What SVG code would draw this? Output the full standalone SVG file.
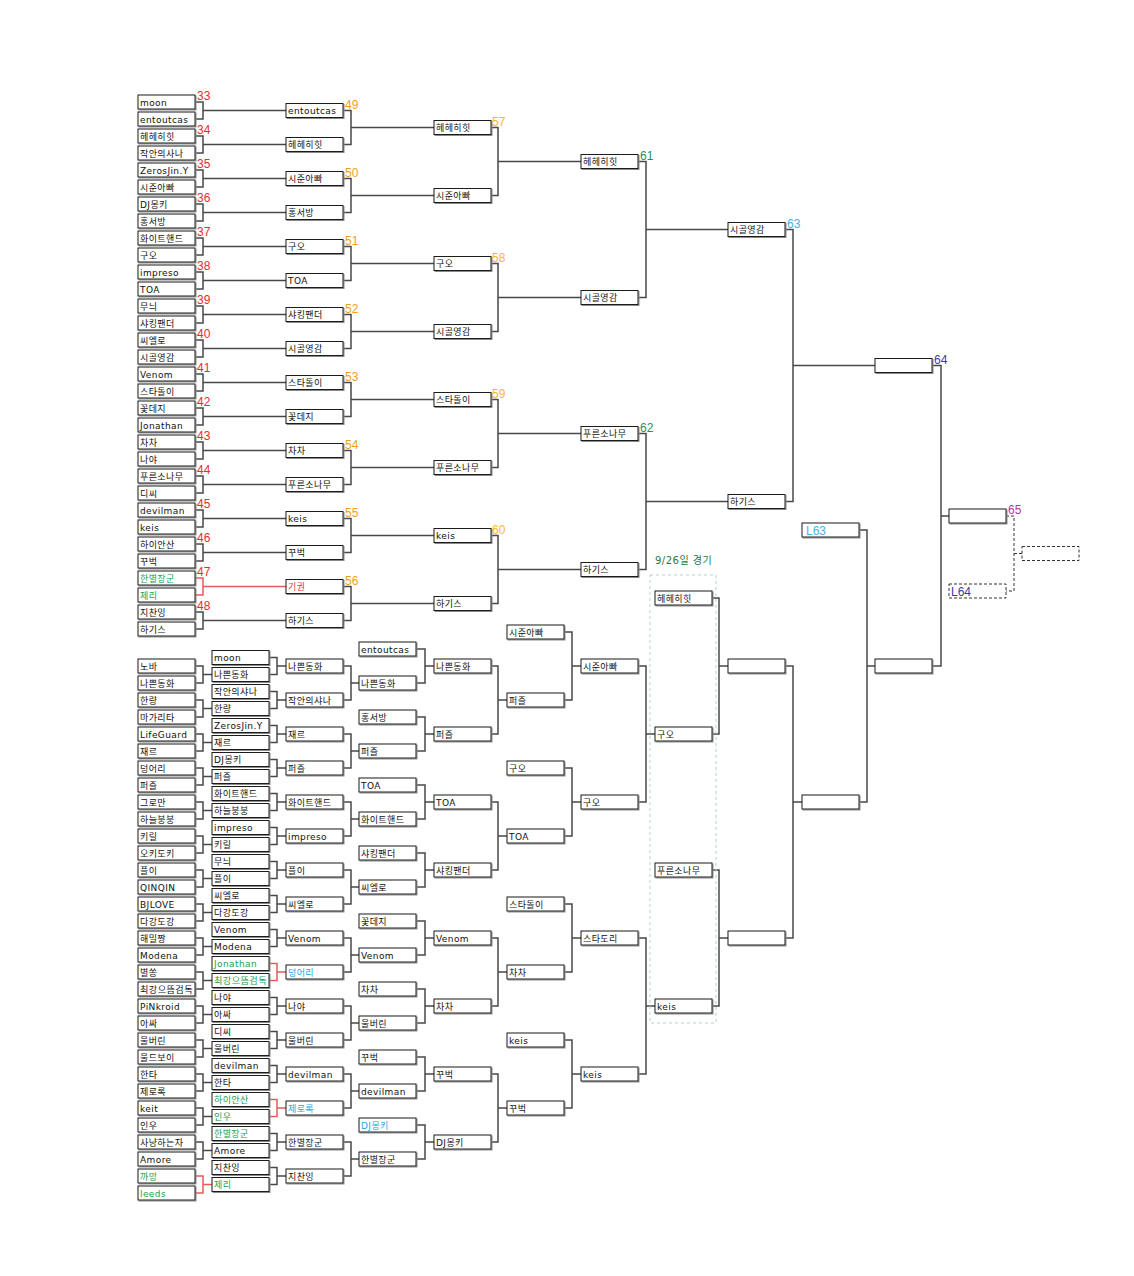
<svg xmlns="http://www.w3.org/2000/svg" width="1134" height="1276" viewBox="0 0 1134 1276">
<defs>
<filter id="sh" x="-10%" y="-20%" width="130%" height="160%"><feDropShadow dx="1" dy="1" stdDeviation="0" flood-color="#8a8a8a" flood-opacity="1"/></filter>
<style>
.b{fill:#fff;stroke:#1a1a1a;stroke-width:1;filter:url(#sh)}
.bd{fill:#fff;stroke:#333;stroke-width:1;stroke-dasharray:3 2}
.t{font-family:"DejaVu Sans","Noto Sans CJK KR",sans-serif;font-size:9px;letter-spacing:0.4px;fill:#111}
.g{fill:#18a050}
.u{fill:#22a6e6}
.r{fill:#ee3333}
.n{font-family:"Liberation Sans","Noto Sans",sans-serif;font-size:12px}
.n1{fill:#ee2a2a}.n2{fill:#f39c1f}.n3{fill:#f7b928}.n4{fill:#2e8b57}.n5{fill:#4aaee6}.n6{fill:#3b3b9b}.n7{fill:#b2379a}
.c{fill:none;stroke:#484848;stroke-width:1.5}
.cr{fill:none;stroke:#e85a5a;stroke-width:1.5}
.cd{fill:none;stroke:#333;stroke-width:1;stroke-dasharray:3 2}
.zone{fill:none;stroke:#b5d3cf;stroke-width:1;stroke-dasharray:3 3}
.lbl{font-family:"DejaVu Sans","Noto Sans CJK KR",sans-serif;font-size:10px;letter-spacing:0.5px;fill:#1d7a44}
</style>
</defs>
<rect width="1134" height="1276" fill="#fff"/>
<g id="connectors">
<path class="c" d="M195 102H203V119H195M203 110.5H286M195 136H203V153H195M203 144.5H286M195 170H203V187H195M203 178.5H286M195 204H203V221H195M203 212.5H286M195 238H203V255H195M203 246.5H286M195 272H203V289H195M203 280.5H286M195 306H203V323H195M203 314.5H286M195 340H203V357H195M203 348.5H286M195 374H203V391H195M203 382.5H286M195 408H203V425H195M203 416.5H286M195 442H203V459H195M203 450.5H286M195 476H203V493H195M203 484.5H286M195 510H203V527H195M203 518.5H286M195 544H203V561H195M203 552.5H286M195 612H203V629H195M203 620.5H286"/>
<path class="cr" d="M195 578H203V595H195M203 586.5H286"/>
<path class="c" d="M343 110.5H351V144.5H343M351 127.5H434M343 178.5H351V212.5H343M351 195.5H434M343 246.5H351V280.5H343M351 263.5H434M343 314.5H351V348.5H343M351 331.5H434M343 382.5H351V416.5H343M351 399.5H434M343 450.5H351V484.5H343M351 467.5H434M343 518.5H351V552.5H343M351 535.5H434M343 586.5H351V620.5H343M351 603.5H434"/>
<path class="c" d="M491 127.5H498V195.5H491M498 161.5H581M491 263.5H498V331.5H491M498 297.5H581M491 399.5H498V467.5H491M498 433.5H581M491 535.5H498V603.5H491M498 569.5H581"/>
<path class="c" d="M638 161.5H646V297.5H638M646 229.5H728M638 433.5H646V569.5H638M646 501.5H728"/>
<path class="c" d="M785 229.5H793V501.5H785M793 365.5H875"/>
<path class="c" d="M932 365.5H941V666H932M941 516H949"/>
<path class="cd" d="M1006 516H1014V591H1006M1014 553.5H1022"/>
<path class="c" d="M195 666H203V683H195M203 674.5H212M195 700H203V717H195M203 708.5H212M195 734H203V751H195M203 742.5H212M195 768H203V785H195M203 776.5H212M195 802H203V819H195M203 810.5H212M195 836H203V853H195M203 844.5H212M195 870H203V887H195M203 878.5H212M195 904H203V921H195M203 912.5H212M195 938H203V955H195M203 946.5H212M195 972H203V989H195M203 980.5H212M195 1006H203V1023H195M203 1014.5H212M195 1040H203V1057H195M203 1048.5H212M195 1074H203V1091H195M203 1082.5H212M195 1108H203V1125H195M203 1116.5H212M195 1142H203V1159H195M203 1150.5H212"/>
<path class="cr" d="M195 1176H203V1193H195M203 1184.5H212"/>
<path class="c" d="M269 657.5H277V674.5H269M277 666H286M269 691.5H277V708.5H269M277 700H286M269 725.5H277V742.5H269M277 734H286M269 759.5H277V776.5H269M277 768H286M269 793.5H277V810.5H269M277 802H286M269 827.5H277V844.5H269M277 836H286M269 861.5H277V878.5H269M277 870H286M269 895.5H277V912.5H269M277 904H286M269 929.5H277V946.5H269M277 938H286M269 997.5H277V1014.5H269M277 1006H286M269 1031.5H277V1048.5H269M277 1040H286M269 1065.5H277V1082.5H269M277 1074H286M269 1133.5H277V1150.5H269M277 1142H286M269 1167.5H277V1184.5H269M277 1176H286"/>
<path class="cr" d="M269 963.5H277V980.5H269M277 972H286M269 1099.5H277V1116.5H269M277 1108H286"/>
<path class="c" d="M343 666H351V700H343M351 683H359M343 734H351V768H343M351 751H359M343 802H351V836H343M351 819H359M343 870H351V904H343M351 887H359M343 938H351V972H343M351 955H359M343 1006H351V1040H343M351 1023H359M343 1074H351V1108H343M351 1091H359M343 1142H351V1176H343M351 1159H359"/>
<path class="c" d="M416 649H425V683H416M425 666H434M416 717H425V751H416M425 734H434M416 785H425V819H416M425 802H434M416 853H425V887H416M425 870H434M416 921H425V955H416M425 938H434M416 989H425V1023H416M425 1006H434M416 1057H425V1091H416M425 1074H434M416 1125H425V1159H416M425 1142H434"/>
<path class="c" d="M491 666H498V734H491M498 700H507M491 802H498V870H491M498 836H507M491 938H498V1006H491M498 972H507M491 1074H498V1142H491M498 1108H507"/>
<path class="c" d="M564 632H572V700H564M572 666H581M564 768H572V836H564M572 802H581M564 904H572V972H564M572 938H581M564 1040H572V1108H564M572 1074H581"/>
<path class="c" d="M638 666H646V802H638M646 734H655M638 938H646V1074H638M646 1006H655"/>
<path class="c" d="M712 598H719V734H712M719 666H728M712 870H719V1006H712M719 938H728"/>
<path class="c" d="M785 666H793V938H785M793 802H802"/>
<path class="c" d="M859 530H867V802H859M867 666H875"/>
</g>
<rect class="zone" x="650" y="575" width="66" height="448"/>
<text class="lbl" x="655" y="564">9/26일 경기</text>
<g id="numbers">
<text class="n n1" x="197" y="100">33</text><text class="n n1" x="197" y="134">34</text><text class="n n1" x="197" y="168">35</text><text class="n n1" x="197" y="202">36</text><text class="n n1" x="197" y="236">37</text><text class="n n1" x="197" y="270">38</text><text class="n n1" x="197" y="304">39</text><text class="n n1" x="197" y="338">40</text><text class="n n1" x="197" y="372">41</text><text class="n n1" x="197" y="406">42</text><text class="n n1" x="197" y="440">43</text><text class="n n1" x="197" y="474">44</text><text class="n n1" x="197" y="508">45</text><text class="n n1" x="197" y="542">46</text><text class="n n1" x="197" y="576">47</text><text class="n n1" x="197" y="610">48</text>
<text class="n n2" x="345" y="108.5">49</text><text class="n n2" x="345" y="176.5">50</text><text class="n n2" x="345" y="244.5">51</text><text class="n n2" x="345" y="312.5">52</text><text class="n n2" x="345" y="380.5">53</text><text class="n n2" x="345" y="448.5">54</text><text class="n n2" x="345" y="516.5">55</text><text class="n n2" x="345" y="584.5">56</text>
<text class="n n3" x="492" y="125.5">57</text><text class="n n3" x="492" y="261.5">58</text><text class="n n3" x="492" y="397.5">59</text><text class="n n3" x="492" y="533.5">60</text>
<text class="n n4" x="640" y="159.5">61</text><text class="n n4" x="640" y="431.5">62</text>
<text class="n n5" x="787" y="227.5">63</text>
<text class="n n6" x="934" y="363.5">64</text>
<text class="n n7" x="1008" y="514">65</text>
</g>
<g id="winners">
<g id="w1-01"><rect class="b" x="138" y="95" width="57" height="14"/><text class="t" x="140" y="105.5">moon</text></g>
<g id="w1-02"><rect class="b" x="138" y="112" width="57" height="14"/><text class="t" x="140" y="122.5">entoutcas</text></g>
<g id="w1-03"><rect class="b" x="138" y="129" width="57" height="14"/><text class="t" x="140" y="139.5">헤헤히힛</text></g>
<g id="w1-04"><rect class="b" x="138" y="146" width="57" height="14"/><text class="t" x="140" y="156.5">작안의사나</text></g>
<g id="w1-05"><rect class="b" x="138" y="163" width="57" height="14"/><text class="t" x="140" y="173.5">ZerosJin.Y</text></g>
<g id="w1-06"><rect class="b" x="138" y="180" width="57" height="14"/><text class="t" x="140" y="190.5">시준아빠</text></g>
<g id="w1-07"><rect class="b" x="138" y="197" width="57" height="14"/><text class="t" x="140" y="207.5">DJ몽키</text></g>
<g id="w1-08"><rect class="b" x="138" y="214" width="57" height="14"/><text class="t" x="140" y="224.5">홍서방</text></g>
<g id="w1-09"><rect class="b" x="138" y="231" width="57" height="14"/><text class="t" x="140" y="241.5">화이트핸드</text></g>
<g id="w1-10"><rect class="b" x="138" y="248" width="57" height="14"/><text class="t" x="140" y="258.5">구오</text></g>
<g id="w1-11"><rect class="b" x="138" y="265" width="57" height="14"/><text class="t" x="140" y="275.5">impreso</text></g>
<g id="w1-12"><rect class="b" x="138" y="282" width="57" height="14"/><text class="t" x="140" y="292.5">TOA</text></g>
<g id="w1-13"><rect class="b" x="138" y="299" width="57" height="14"/><text class="t" x="140" y="309.5">무늬</text></g>
<g id="w1-14"><rect class="b" x="138" y="316" width="57" height="14"/><text class="t" x="140" y="326.5">샤킹팬더</text></g>
<g id="w1-15"><rect class="b" x="138" y="333" width="57" height="14"/><text class="t" x="140" y="343.5">씨엘로</text></g>
<g id="w1-16"><rect class="b" x="138" y="350" width="57" height="14"/><text class="t" x="140" y="360.5">시골영감</text></g>
<g id="w1-17"><rect class="b" x="138" y="367" width="57" height="14"/><text class="t" x="140" y="377.5">Venom</text></g>
<g id="w1-18"><rect class="b" x="138" y="384" width="57" height="14"/><text class="t" x="140" y="394.5">스타돌이</text></g>
<g id="w1-19"><rect class="b" x="138" y="401" width="57" height="14"/><text class="t" x="140" y="411.5">꽃데지</text></g>
<g id="w1-20"><rect class="b" x="138" y="418" width="57" height="14"/><text class="t" x="140" y="428.5">Jonathan</text></g>
<g id="w1-21"><rect class="b" x="138" y="435" width="57" height="14"/><text class="t" x="140" y="445.5">차차</text></g>
<g id="w1-22"><rect class="b" x="138" y="452" width="57" height="14"/><text class="t" x="140" y="462.5">나야</text></g>
<g id="w1-23"><rect class="b" x="138" y="469" width="57" height="14"/><text class="t" x="140" y="479.5">푸른소나무</text></g>
<g id="w1-24"><rect class="b" x="138" y="486" width="57" height="14"/><text class="t" x="140" y="496.5">디씨</text></g>
<g id="w1-25"><rect class="b" x="138" y="503" width="57" height="14"/><text class="t" x="140" y="513.5">devilman</text></g>
<g id="w1-26"><rect class="b" x="138" y="520" width="57" height="14"/><text class="t" x="140" y="530.5">keis</text></g>
<g id="w1-27"><rect class="b" x="138" y="537" width="57" height="14"/><text class="t" x="140" y="547.5">하이안산</text></g>
<g id="w1-28"><rect class="b" x="138" y="554" width="57" height="14"/><text class="t" x="140" y="564.5">꾸벅</text></g>
<g id="w1-29"><rect class="b" x="138" y="571" width="57" height="14"/><text class="t g" x="140" y="581.5">한별장군</text></g>
<g id="w1-30"><rect class="b" x="138" y="588" width="57" height="14"/><text class="t g" x="140" y="598.5">제리</text></g>
<g id="w1-31"><rect class="b" x="138" y="605" width="57" height="14"/><text class="t" x="140" y="615.5">지찬잉</text></g>
<g id="w1-32"><rect class="b" x="138" y="622" width="57" height="14"/><text class="t" x="140" y="632.5">하기스</text></g>
<g id="w2-01"><rect class="b" x="286" y="103.5" width="57" height="14"/><text class="t" x="288" y="114">entoutcas</text></g>
<g id="w2-02"><rect class="b" x="286" y="137.5" width="57" height="14"/><text class="t" x="288" y="148">헤헤히힛</text></g>
<g id="w2-03"><rect class="b" x="286" y="171.5" width="57" height="14"/><text class="t" x="288" y="182">시준아빠</text></g>
<g id="w2-04"><rect class="b" x="286" y="205.5" width="57" height="14"/><text class="t" x="288" y="216">홍서방</text></g>
<g id="w2-05"><rect class="b" x="286" y="239.5" width="57" height="14"/><text class="t" x="288" y="250">구오</text></g>
<g id="w2-06"><rect class="b" x="286" y="273.5" width="57" height="14"/><text class="t" x="288" y="284">TOA</text></g>
<g id="w2-07"><rect class="b" x="286" y="307.5" width="57" height="14"/><text class="t" x="288" y="318">샤킹팬더</text></g>
<g id="w2-08"><rect class="b" x="286" y="341.5" width="57" height="14"/><text class="t" x="288" y="352">시골영감</text></g>
<g id="w2-09"><rect class="b" x="286" y="375.5" width="57" height="14"/><text class="t" x="288" y="386">스타돌이</text></g>
<g id="w2-10"><rect class="b" x="286" y="409.5" width="57" height="14"/><text class="t" x="288" y="420">꽃데지</text></g>
<g id="w2-11"><rect class="b" x="286" y="443.5" width="57" height="14"/><text class="t" x="288" y="454">차차</text></g>
<g id="w2-12"><rect class="b" x="286" y="477.5" width="57" height="14"/><text class="t" x="288" y="488">푸른소나무</text></g>
<g id="w2-13"><rect class="b" x="286" y="511.5" width="57" height="14"/><text class="t" x="288" y="522">keis</text></g>
<g id="w2-14"><rect class="b" x="286" y="545.5" width="57" height="14"/><text class="t" x="288" y="556">꾸벅</text></g>
<g id="w2-15"><rect class="b" x="286" y="579.5" width="57" height="14"/><text class="t r" x="288" y="590">기권</text></g>
<g id="w2-16"><rect class="b" x="286" y="613.5" width="57" height="14"/><text class="t" x="288" y="624">하기스</text></g>
<g id="w3-1"><rect class="b" x="434" y="120.5" width="57" height="14"/><text class="t" x="436" y="131">헤헤히힛</text></g>
<g id="w3-2"><rect class="b" x="434" y="188.5" width="57" height="14"/><text class="t" x="436" y="199">시준아빠</text></g>
<g id="w3-3"><rect class="b" x="434" y="256.5" width="57" height="14"/><text class="t" x="436" y="267">구오</text></g>
<g id="w3-4"><rect class="b" x="434" y="324.5" width="57" height="14"/><text class="t" x="436" y="335">시골영감</text></g>
<g id="w3-5"><rect class="b" x="434" y="392.5" width="57" height="14"/><text class="t" x="436" y="403">스타돌이</text></g>
<g id="w3-6"><rect class="b" x="434" y="460.5" width="57" height="14"/><text class="t" x="436" y="471">푸른소나무</text></g>
<g id="w3-7"><rect class="b" x="434" y="528.5" width="57" height="14"/><text class="t" x="436" y="539">keis</text></g>
<g id="w3-8"><rect class="b" x="434" y="596.5" width="57" height="14"/><text class="t" x="436" y="607">하기스</text></g>
<g id="w4-1"><rect class="b" x="581" y="154.5" width="57" height="14"/><text class="t" x="583" y="165">헤헤히힛</text></g>
<g id="w4-2"><rect class="b" x="581" y="290.5" width="57" height="14"/><text class="t" x="583" y="301">시골영감</text></g>
<g id="w4-3"><rect class="b" x="581" y="426.5" width="57" height="14"/><text class="t" x="583" y="437">푸른소나무</text></g>
<g id="w4-4"><rect class="b" x="581" y="562.5" width="57" height="14"/><text class="t" x="583" y="573">하기스</text></g>
<g id="w5-1"><rect class="b" x="728" y="222.5" width="57" height="14"/><text class="t" x="730" y="233">시골영감</text></g>
<g id="w5-2"><rect class="b" x="728" y="494.5" width="57" height="14"/><text class="t" x="730" y="505">하기스</text></g>
<g id="w6-1"><rect class="b" x="875" y="358.5" width="57" height="14"/></g>
<g id="final"><rect class="b" x="949" y="509" width="57" height="14"/></g>
<g id="final-extra"><rect class="bd" x="1022" y="546.5" width="57" height="14"/></g>
</g>
<g id="losers">
<g id="a-01"><rect class="b" x="138" y="659" width="57" height="14"/><text class="t" x="140" y="669.5">노바</text></g>
<g id="a-02"><rect class="b" x="138" y="676" width="57" height="14"/><text class="t" x="140" y="686.5">나쁜동화</text></g>
<g id="a-03"><rect class="b" x="138" y="693" width="57" height="14"/><text class="t" x="140" y="703.5">한량</text></g>
<g id="a-04"><rect class="b" x="138" y="710" width="57" height="14"/><text class="t" x="140" y="720.5">마가리타</text></g>
<g id="a-05"><rect class="b" x="138" y="727" width="57" height="14"/><text class="t" x="140" y="737.5">LifeGuard</text></g>
<g id="a-06"><rect class="b" x="138" y="744" width="57" height="14"/><text class="t" x="140" y="754.5">재르</text></g>
<g id="a-07"><rect class="b" x="138" y="761" width="57" height="14"/><text class="t" x="140" y="771.5">덩어리</text></g>
<g id="a-08"><rect class="b" x="138" y="778" width="57" height="14"/><text class="t" x="140" y="788.5">퍼즐</text></g>
<g id="a-09"><rect class="b" x="138" y="795" width="57" height="14"/><text class="t" x="140" y="805.5">그로만</text></g>
<g id="a-10"><rect class="b" x="138" y="812" width="57" height="14"/><text class="t" x="140" y="822.5">하늘붕붕</text></g>
<g id="a-11"><rect class="b" x="138" y="829" width="57" height="14"/><text class="t" x="140" y="839.5">키릴</text></g>
<g id="a-12"><rect class="b" x="138" y="846" width="57" height="14"/><text class="t" x="140" y="856.5">오키도키</text></g>
<g id="a-13"><rect class="b" x="138" y="863" width="57" height="14"/><text class="t" x="140" y="873.5">플이</text></g>
<g id="a-14"><rect class="b" x="138" y="880" width="57" height="14"/><text class="t" x="140" y="890.5">QINQIN</text></g>
<g id="a-15"><rect class="b" x="138" y="897" width="57" height="14"/><text class="t" x="140" y="907.5">BJLOVE</text></g>
<g id="a-16"><rect class="b" x="138" y="914" width="57" height="14"/><text class="t" x="140" y="924.5">다강도강</text></g>
<g id="a-17"><rect class="b" x="138" y="931" width="57" height="14"/><text class="t" x="140" y="941.5">해밀짱</text></g>
<g id="a-18"><rect class="b" x="138" y="948" width="57" height="14"/><text class="t" x="140" y="958.5">Modena</text></g>
<g id="a-19"><rect class="b" x="138" y="965" width="57" height="14"/><text class="t" x="140" y="975.5">별쏭</text></g>
<g id="a-20"><rect class="b" x="138" y="982" width="57" height="14"/><text class="t" x="140" y="992.5" textLength="53" lengthAdjust="spacingAndGlyphs">최강으뜸검독</text></g>
<g id="a-21"><rect class="b" x="138" y="999" width="57" height="14"/><text class="t" x="140" y="1009.5">PiNkroid</text></g>
<g id="a-22"><rect class="b" x="138" y="1016" width="57" height="14"/><text class="t" x="140" y="1026.5">아싸</text></g>
<g id="a-23"><rect class="b" x="138" y="1033" width="57" height="14"/><text class="t" x="140" y="1043.5">울버린</text></g>
<g id="a-24"><rect class="b" x="138" y="1050" width="57" height="14"/><text class="t" x="140" y="1060.5">울드보이</text></g>
<g id="a-25"><rect class="b" x="138" y="1067" width="57" height="14"/><text class="t" x="140" y="1077.5">한타</text></g>
<g id="a-26"><rect class="b" x="138" y="1084" width="57" height="14"/><text class="t" x="140" y="1094.5">제로록</text></g>
<g id="a-27"><rect class="b" x="138" y="1101" width="57" height="14"/><text class="t" x="140" y="1111.5">keit</text></g>
<g id="a-28"><rect class="b" x="138" y="1118" width="57" height="14"/><text class="t" x="140" y="1128.5">인우</text></g>
<g id="a-29"><rect class="b" x="138" y="1135" width="57" height="14"/><text class="t" x="140" y="1145.5">사냥하는자</text></g>
<g id="a-30"><rect class="b" x="138" y="1152" width="57" height="14"/><text class="t" x="140" y="1162.5">Amore</text></g>
<g id="a-31"><rect class="b" x="138" y="1169" width="57" height="14"/><text class="t g" x="140" y="1179.5">까망</text></g>
<g id="a-32"><rect class="b" x="138" y="1186" width="57" height="14"/><text class="t g" x="140" y="1196.5">leeds</text></g>
<g id="b-01"><rect class="b" x="212" y="650.5" width="57" height="14"/><text class="t" x="214" y="661">moon</text></g>
<g id="b-02"><rect class="b" x="212" y="667.5" width="57" height="14"/><text class="t" x="214" y="678">나쁜동화</text></g>
<g id="b-03"><rect class="b" x="212" y="684.5" width="57" height="14"/><text class="t" x="214" y="695">작안의샤나</text></g>
<g id="b-04"><rect class="b" x="212" y="701.5" width="57" height="14"/><text class="t" x="214" y="712">한량</text></g>
<g id="b-05"><rect class="b" x="212" y="718.5" width="57" height="14"/><text class="t" x="214" y="729">ZerosJin.Y</text></g>
<g id="b-06"><rect class="b" x="212" y="735.5" width="57" height="14"/><text class="t" x="214" y="746">재르</text></g>
<g id="b-07"><rect class="b" x="212" y="752.5" width="57" height="14"/><text class="t" x="214" y="763">DJ몽키</text></g>
<g id="b-08"><rect class="b" x="212" y="769.5" width="57" height="14"/><text class="t" x="214" y="780">퍼즐</text></g>
<g id="b-09"><rect class="b" x="212" y="786.5" width="57" height="14"/><text class="t" x="214" y="797">화이트핸드</text></g>
<g id="b-10"><rect class="b" x="212" y="803.5" width="57" height="14"/><text class="t" x="214" y="814">하늘붕붕</text></g>
<g id="b-11"><rect class="b" x="212" y="820.5" width="57" height="14"/><text class="t" x="214" y="831">impreso</text></g>
<g id="b-12"><rect class="b" x="212" y="837.5" width="57" height="14"/><text class="t" x="214" y="848">키릴</text></g>
<g id="b-13"><rect class="b" x="212" y="854.5" width="57" height="14"/><text class="t" x="214" y="865">무늬</text></g>
<g id="b-14"><rect class="b" x="212" y="871.5" width="57" height="14"/><text class="t" x="214" y="882">플이</text></g>
<g id="b-15"><rect class="b" x="212" y="888.5" width="57" height="14"/><text class="t" x="214" y="899">씨엘로</text></g>
<g id="b-16"><rect class="b" x="212" y="905.5" width="57" height="14"/><text class="t" x="214" y="916">다강도강</text></g>
<g id="b-17"><rect class="b" x="212" y="922.5" width="57" height="14"/><text class="t" x="214" y="933">Venom</text></g>
<g id="b-18"><rect class="b" x="212" y="939.5" width="57" height="14"/><text class="t" x="214" y="950">Modena</text></g>
<g id="b-19"><rect class="b" x="212" y="956.5" width="57" height="14"/><text class="t g" x="214" y="967">Jonathan</text></g>
<g id="b-20"><rect class="b" x="212" y="973.5" width="57" height="14"/><text class="t g" x="214" y="984" textLength="53" lengthAdjust="spacingAndGlyphs">최강으뜸검독</text></g>
<g id="b-21"><rect class="b" x="212" y="990.5" width="57" height="14"/><text class="t" x="214" y="1001">나야</text></g>
<g id="b-22"><rect class="b" x="212" y="1007.5" width="57" height="14"/><text class="t" x="214" y="1018">아싸</text></g>
<g id="b-23"><rect class="b" x="212" y="1024.5" width="57" height="14"/><text class="t" x="214" y="1035">디씨</text></g>
<g id="b-24"><rect class="b" x="212" y="1041.5" width="57" height="14"/><text class="t" x="214" y="1052">울버린</text></g>
<g id="b-25"><rect class="b" x="212" y="1058.5" width="57" height="14"/><text class="t" x="214" y="1069">devilman</text></g>
<g id="b-26"><rect class="b" x="212" y="1075.5" width="57" height="14"/><text class="t" x="214" y="1086">한타</text></g>
<g id="b-27"><rect class="b" x="212" y="1092.5" width="57" height="14"/><text class="t g" x="214" y="1103">하이안산</text></g>
<g id="b-28"><rect class="b" x="212" y="1109.5" width="57" height="14"/><text class="t g" x="214" y="1120">인우</text></g>
<g id="b-29"><rect class="b" x="212" y="1126.5" width="57" height="14"/><text class="t g" x="214" y="1137">한별장군</text></g>
<g id="b-30"><rect class="b" x="212" y="1143.5" width="57" height="14"/><text class="t" x="214" y="1154">Amore</text></g>
<g id="b-31"><rect class="b" x="212" y="1160.5" width="57" height="14"/><text class="t" x="214" y="1171">지찬잉</text></g>
<g id="b-32"><rect class="b" x="212" y="1177.5" width="57" height="14"/><text class="t g" x="214" y="1188">제리</text></g>
<g id="c-01"><rect class="b" x="286" y="659" width="57" height="14"/><text class="t" x="288" y="669.5">나쁜동화</text></g>
<g id="c-02"><rect class="b" x="286" y="693" width="57" height="14"/><text class="t" x="288" y="703.5">작안의샤나</text></g>
<g id="c-03"><rect class="b" x="286" y="727" width="57" height="14"/><text class="t" x="288" y="737.5">재르</text></g>
<g id="c-04"><rect class="b" x="286" y="761" width="57" height="14"/><text class="t" x="288" y="771.5">퍼즐</text></g>
<g id="c-05"><rect class="b" x="286" y="795" width="57" height="14"/><text class="t" x="288" y="805.5">화이트핸드</text></g>
<g id="c-06"><rect class="b" x="286" y="829" width="57" height="14"/><text class="t" x="288" y="839.5">impreso</text></g>
<g id="c-07"><rect class="b" x="286" y="863" width="57" height="14"/><text class="t" x="288" y="873.5">플이</text></g>
<g id="c-08"><rect class="b" x="286" y="897" width="57" height="14"/><text class="t" x="288" y="907.5">씨엘로</text></g>
<g id="c-09"><rect class="b" x="286" y="931" width="57" height="14"/><text class="t" x="288" y="941.5">Venom</text></g>
<g id="c-10"><rect class="b" x="286" y="965" width="57" height="14"/><text class="t u" x="288" y="975.5">덩어리</text></g>
<g id="c-11"><rect class="b" x="286" y="999" width="57" height="14"/><text class="t" x="288" y="1009.5">나야</text></g>
<g id="c-12"><rect class="b" x="286" y="1033" width="57" height="14"/><text class="t" x="288" y="1043.5">울버린</text></g>
<g id="c-13"><rect class="b" x="286" y="1067" width="57" height="14"/><text class="t" x="288" y="1077.5">devilman</text></g>
<g id="c-14"><rect class="b" x="286" y="1101" width="57" height="14"/><text class="t u" x="288" y="1111.5">제로록</text></g>
<g id="c-15"><rect class="b" x="286" y="1135" width="57" height="14"/><text class="t" x="288" y="1145.5">한별장군</text></g>
<g id="c-16"><rect class="b" x="286" y="1169" width="57" height="14"/><text class="t" x="288" y="1179.5">지찬잉</text></g>
<g id="d-01"><rect class="b" x="359" y="642" width="57" height="14"/><text class="t" x="361" y="652.5">entoutcas</text></g>
<g id="d-02"><rect class="b" x="359" y="676" width="57" height="14"/><text class="t" x="361" y="686.5">나쁜동화</text></g>
<g id="d-03"><rect class="b" x="359" y="710" width="57" height="14"/><text class="t" x="361" y="720.5">홍서방</text></g>
<g id="d-04"><rect class="b" x="359" y="744" width="57" height="14"/><text class="t" x="361" y="754.5">퍼즐</text></g>
<g id="d-05"><rect class="b" x="359" y="778" width="57" height="14"/><text class="t" x="361" y="788.5">TOA</text></g>
<g id="d-06"><rect class="b" x="359" y="812" width="57" height="14"/><text class="t" x="361" y="822.5">화이트핸드</text></g>
<g id="d-07"><rect class="b" x="359" y="846" width="57" height="14"/><text class="t" x="361" y="856.5">샤킹팬더</text></g>
<g id="d-08"><rect class="b" x="359" y="880" width="57" height="14"/><text class="t" x="361" y="890.5">씨엘로</text></g>
<g id="d-09"><rect class="b" x="359" y="914" width="57" height="14"/><text class="t" x="361" y="924.5">꽃데지</text></g>
<g id="d-10"><rect class="b" x="359" y="948" width="57" height="14"/><text class="t" x="361" y="958.5">Venom</text></g>
<g id="d-11"><rect class="b" x="359" y="982" width="57" height="14"/><text class="t" x="361" y="992.5">차차</text></g>
<g id="d-12"><rect class="b" x="359" y="1016" width="57" height="14"/><text class="t" x="361" y="1026.5">울버린</text></g>
<g id="d-13"><rect class="b" x="359" y="1050" width="57" height="14"/><text class="t" x="361" y="1060.5">꾸벅</text></g>
<g id="d-14"><rect class="b" x="359" y="1084" width="57" height="14"/><text class="t" x="361" y="1094.5">devilman</text></g>
<g id="d-15"><rect class="b" x="359" y="1118" width="57" height="14"/><text class="t u" x="361" y="1128.5">DJ몽키</text></g>
<g id="d-16"><rect class="b" x="359" y="1152" width="57" height="14"/><text class="t" x="361" y="1162.5">한별장군</text></g>
<g id="e-1"><rect class="b" x="434" y="659" width="57" height="14"/><text class="t" x="436" y="669.5">나쁜동화</text></g>
<g id="e-2"><rect class="b" x="434" y="727" width="57" height="14"/><text class="t" x="436" y="737.5">퍼즐</text></g>
<g id="e-3"><rect class="b" x="434" y="795" width="57" height="14"/><text class="t" x="436" y="805.5">TOA</text></g>
<g id="e-4"><rect class="b" x="434" y="863" width="57" height="14"/><text class="t" x="436" y="873.5">샤킹팬더</text></g>
<g id="e-5"><rect class="b" x="434" y="931" width="57" height="14"/><text class="t" x="436" y="941.5">Venom</text></g>
<g id="e-6"><rect class="b" x="434" y="999" width="57" height="14"/><text class="t" x="436" y="1009.5">차차</text></g>
<g id="e-7"><rect class="b" x="434" y="1067" width="57" height="14"/><text class="t" x="436" y="1077.5">꾸벅</text></g>
<g id="e-8"><rect class="b" x="434" y="1135" width="57" height="14"/><text class="t" x="436" y="1145.5">DJ몽키</text></g>
<g id="f-1"><rect class="b" x="507" y="625" width="57" height="14"/><text class="t" x="509" y="635.5">시준아빠</text></g>
<g id="f-2"><rect class="b" x="507" y="693" width="57" height="14"/><text class="t" x="509" y="703.5">퍼즐</text></g>
<g id="f-3"><rect class="b" x="507" y="761" width="57" height="14"/><text class="t" x="509" y="771.5">구오</text></g>
<g id="f-4"><rect class="b" x="507" y="829" width="57" height="14"/><text class="t" x="509" y="839.5">TOA</text></g>
<g id="f-5"><rect class="b" x="507" y="897" width="57" height="14"/><text class="t" x="509" y="907.5">스타돌이</text></g>
<g id="f-6"><rect class="b" x="507" y="965" width="57" height="14"/><text class="t" x="509" y="975.5">차차</text></g>
<g id="f-7"><rect class="b" x="507" y="1033" width="57" height="14"/><text class="t" x="509" y="1043.5">keis</text></g>
<g id="f-8"><rect class="b" x="507" y="1101" width="57" height="14"/><text class="t" x="509" y="1111.5">꾸벅</text></g>
<g id="g-1"><rect class="b" x="581" y="659" width="57" height="14"/><text class="t" x="583" y="669.5">시준아빠</text></g>
<g id="g-2"><rect class="b" x="581" y="795" width="57" height="14"/><text class="t" x="583" y="805.5">구오</text></g>
<g id="g-3"><rect class="b" x="581" y="931" width="57" height="14"/><text class="t" x="583" y="941.5">스타도리</text></g>
<g id="g-4"><rect class="b" x="581" y="1067" width="57" height="14"/><text class="t" x="583" y="1077.5">keis</text></g>
<g id="h-1"><rect class="b" x="655" y="591" width="57" height="14"/><text class="t" x="657" y="601.5">헤헤히힛</text></g>
<g id="h-2"><rect class="b" x="655" y="727" width="57" height="14"/><text class="t" x="657" y="737.5">구오</text></g>
<g id="h-3"><rect class="b" x="655" y="863" width="57" height="14"/><text class="t" x="657" y="873.5">푸른소나무</text></g>
<g id="h-4"><rect class="b" x="655" y="999" width="57" height="14"/><text class="t" x="657" y="1009.5">keis</text></g>
<g id="i-1"><rect class="b" x="728" y="659" width="57" height="14"/></g>
<g id="i-2"><rect class="b" x="728" y="931" width="57" height="14"/></g>
<g id="j-1"><rect class="b" x="802" y="795" width="57" height="14"/></g>
<g id="l63"><rect class="b" x="802" y="523" width="57" height="14"/><text class="n n5" x="806" y="535">L63</text></g>
<g id="k-1"><rect class="b" x="875" y="659" width="57" height="14"/></g>
<g id="l64"><rect class="bd" x="949" y="584" width="57" height="14"/><text class="n n6" x="951" y="596">L64</text></g>
</g>
</svg>
